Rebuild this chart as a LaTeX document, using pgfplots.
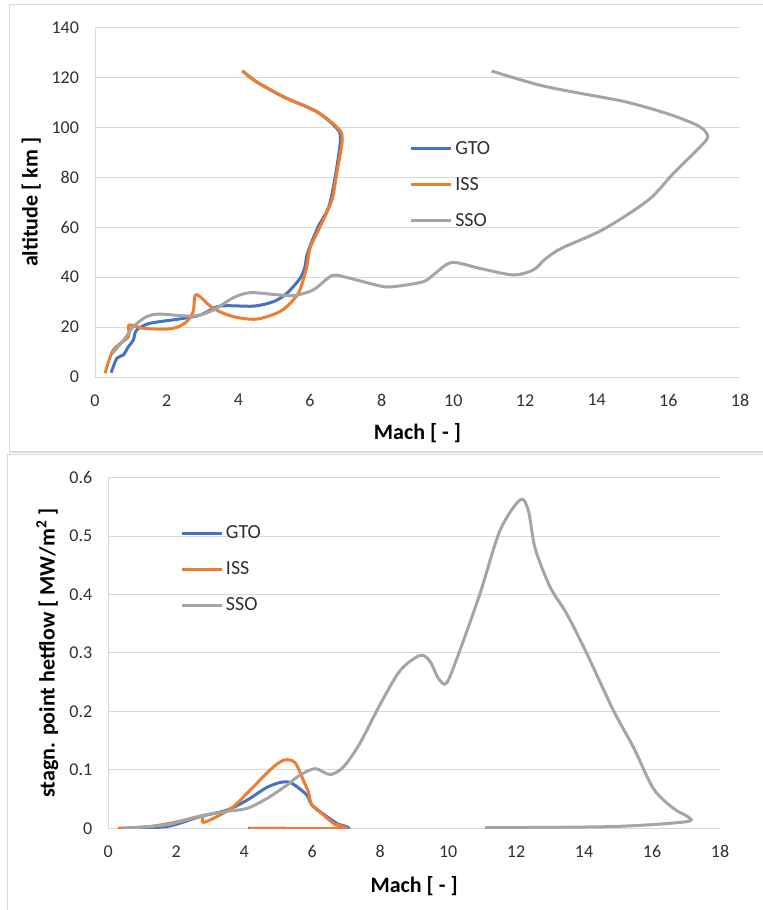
\documentclass[border=0pt]{standalone}
\usepackage{fontspec}
\setmainfont{Carlito}
\usepackage{pgfplots}
\pgfplotsset{compat=1.18}

\definecolor{cblue}{HTML}{4472C4}
\definecolor{corange}{HTML}{ED7D31}
\definecolor{cgray}{HTML}{A5A5A5}
\definecolor{gridc}{HTML}{D9D9D9}
\definecolor{tickc}{HTML}{303030}

\pgfplotsset{
  xlpanel/.style={
    scale only axis,
    axis x line=bottom, axis y line=left,
    axis line style={draw=gridc, line width=0.75pt, -},
    ymajorgrids, grid style={draw=gridc, line width=0.75pt},
    major tick length=0pt,
    xmin=0, xmax=18, xtick={0,2,...,18},
    tick label style={font=\fontsize{13.5}{16}\selectfont, text=tickc},
    /pgf/number format/assume math mode=true,
    yticklabel style={xshift=-8.5pt},
    xticklabel style={yshift=-9.5pt},
    label style={font=\bfseries\fontsize{16.5}{19}\selectfont},
    xlabel={Mach [ - ]},
    legend cell align=left,
    legend style={draw=none, fill=none, inner sep=0pt, outer sep=0pt,
      row sep=11.75pt, nodes={font=\fontsize{15}{17}\selectfont, text=tickc}},
    legend image code/.code={\draw[##1, line width=2.25pt] (0pt,0pt) -- (30pt,0pt);},
    every axis plot/.append style={line width=2.25pt, smooth, no markers},
  }
}

\begin{document}
\begin{tikzpicture}
\useasboundingbox (0pt,0pt) rectangle (572.25pt,-682.5pt);
% panel frames
\draw[gridc, line width=0.9pt] (572.25pt,-3.4pt) -- (6.9pt,-3.4pt) -- (6.9pt,-339pt) -- (572.25pt,-339pt);
\draw[gridc, line width=0.9pt] (572.25pt,-340.6pt) -- (5.6pt,-340.6pt) -- (5.6pt,-682.5pt);

% altitude vs Mach
\begin{axis}[xlpanel,
  at={(71.25pt,-282.75pt)}, anchor=south west,
  width=483.75pt, height=262pt,
  ymin=0, ymax=140, ytick={0,20,...,140},
  ylabel={altitude [ km ]},
  ylabel style={at={(axis description cs:-0.099,0.5)}, anchor=center},
  xlabel style={at={(axis description cs:0.5,-0.160)}, anchor=center},
  legend style={at={(axis cs:8.78,77)}, anchor=west},
]
\addplot[cblue] coordinates {
  (0.45,1.7) (0.61,7.5) (0.79,8.8) (0.93,12.1) (1.07,14.8) (1.16,18.8)
  (1.53,21.5) (2.28,23.1) (2.93,24.8) (3.49,28.4) (4.42,28.4) (4.98,30.2)
  (5.35,33.5) (5.72,39.5) (5.86,44.2) (5.93,49.6) (6.22,60) (6.52,68)
  (6.7,80) (6.85,95) (6.75,99.6) (6.19,106.3) (5.26,112.3) (4.51,118.3) (4.11,122.7)
};
\addlegendentry{GTO}
\addplot[corange] coordinates {
  (0.28,1.5) (0.51,10.8) (0.93,16.1) (0.95,20.8) (1.35,19.5) (2.0,19.2)
  (2.3,20.0) (2.56,22.2) (2.74,26.2) (2.79,32.6) (2.93,32.2) (3.30,27.5)
  (3.86,24.2) (4.51,23.2) (5.16,26.2) (5.53,30.8) (5.72,34.9) (5.91,44.2)
  (6.0,51.6) (6.28,60.2) (6.61,70.9) (6.75,82) (6.90,95) (6.79,99.6)
  (6.19,106.3) (5.26,112.3) (4.51,118.3) (4.11,122.7)
};
\addlegendentry{ISS}
\addplot[cgray] coordinates {
  (0.49,9.5) (0.84,15.5) (1.07,20.2) (1.44,24.2) (1.81,25.2) (2.74,24.4)
  (3.30,26.8) (3.86,31.8) (4.33,33.8) (4.98,33.1) (5.53,32.6) (6.09,34.9)
  (6.61,40.6) (7.02,39.9) (7.95,36.5) (8.33,36.2) (9.16,38.2) (9.49,41.5)
  (9.96,45.9) (10.75,43.5) (11.67,40.9) (12.23,42.9) (12.56,47.2) (13.02,51.6)
  (14.19,59.2) (15.44,70.9) (16.14,81.6) (17.02,94.3) (17.07,97.6) (16.79,101)
  (15.96,105.6) (14.8,110.3) (13.5,113.8) (12.4,117) (11.07,122.6)
};
\addlegendentry{SSO}
\end{axis}

% heat flux vs Mach
\begin{axis}[xlpanel,
  at={(81.2pt,-621.2pt)}, anchor=south west,
  width=458.8pt, height=263pt,
  ymin=0, ymax=0.6, ytick={0,0.1,...,0.6},
  yticklabel style={/pgf/number format/.cd, fixed, precision=1},
  ylabel={stagn. point hetflow [ MW/m\textsuperscript{2} ]},
  ylabel style={at={(axis description cs:-0.0997,0.5)}, anchor=center},
  xlabel style={at={(axis description cs:0.5,-0.165)}, anchor=center},
  legend style={at={(axis cs:2.12,0.443)}, anchor=west},
]
\addplot[cblue] coordinates {
  (0.47,0) (1.72,0.003) (2.7,0.02) (3.49,0.031) (4.08,0.048) (4.67,0.07)
  (5.11,0.079) (5.40,0.077) (5.84,0.057) (5.99,0.04) (6.43,0.02) (6.73,0.008)
  (6.92,0.0) (4.11,0)
};
\addlegendentry{GTO}
\addplot[corange] coordinates {
  (0.28,0) (1.23,0.003) (2.02,0.011) (2.51,0.018) (2.75,0.02) (2.80,0.01)
  (3.2,0.02) (3.68,0.037) (4.27,0.071) (4.86,0.105) (5.20,0.117) (5.5,0.112)
  (5.74,0.082) (5.89,0.062) (5.99,0.04) (6.33,0.023) (6.63,0.008) (6.87,0.0) (4.13,0)
};
\addlegendentry{ISS}
\addplot[cgray] coordinates {
  (0.47,0) (1.72,0.006) (2.7,0.021) (3.49,0.029) (4.08,0.034) (4.67,0.051)
  (5.26,0.074) (5.64,0.091) (6.09,0.102) (6.53,0.092) (6.92,0.105) (7.40,0.145)
  (8.0,0.212) (8.59,0.270) (9.18,0.296) (9.47,0.285) (9.72,0.256) (9.96,0.249)
  (10.35,0.305) (10.94,0.402) (11.53,0.51) (12.12,0.562) (12.36,0.544) (12.56,0.479)
  (13.0,0.413) (13.49,0.367) (14.08,0.299) (14.86,0.202) (15.45,0.139) (16.04,0.068)
  (16.63,0.034) (17.07,0.019) (16.97,0.011) (14.86,0.003) (11.09,0.001)
};
\addlegendentry{SSO}
\end{axis}
\end{tikzpicture}
\end{document}
